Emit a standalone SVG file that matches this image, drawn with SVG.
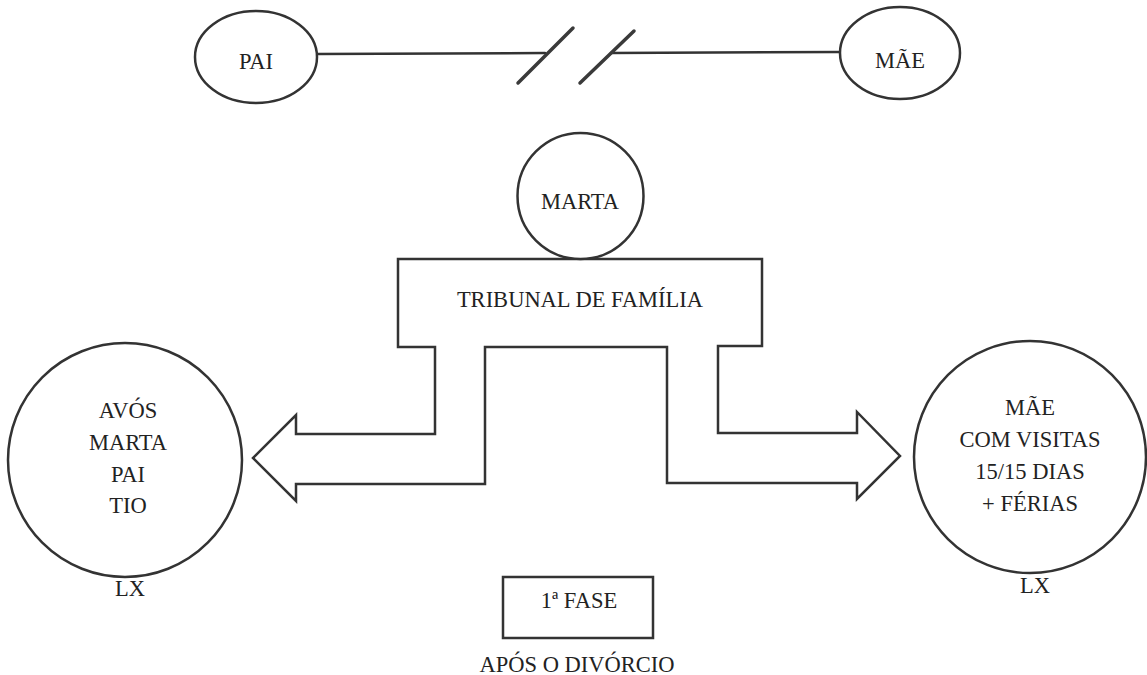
<svg xmlns="http://www.w3.org/2000/svg" width="1147" height="675" viewBox="0 0 1147 675">
  <style>
    .shape { fill: #fff; stroke: #333; stroke-width: 2.5; }
    .line { fill: none; stroke: #333; stroke-width: 2.5; stroke-linecap: round; }
    .slash { fill: none; stroke: #3a3a3a; stroke-width: 3.5; stroke-linecap: round; }
    text { font-family: 'Liberation Serif', 'DejaVu Serif', serif; font-size: 22.5px; fill: #222; text-anchor: middle; }
  </style>
  <rect width="1147" height="675" fill="#fff"/>

  <!-- broken relationship line between the parents -->
  <g id="connectors">
    <line class="line" x1="317" y1="54" x2="545" y2="53"/>
    <line class="line" x1="611" y1="53" x2="840" y2="52"/>
    <line class="slash" x1="518" y1="83" x2="573" y2="28"/>
    <line class="slash" x1="580" y1="83" x2="634" y2="31"/>
  </g>

  <g id="pai">
    <ellipse class="shape" cx="256" cy="57" rx="61" ry="46"/>
    <text x="256" y="69">PAI</text>
  </g>

  <g id="mae">
    <ellipse class="shape" cx="900" cy="53" rx="60" ry="46"/>
    <text x="900" y="68">MÃE</text>
  </g>

  <!-- court block with the two outgoing arrows -->
  <g id="tribunal">
    <path class="shape" d="M398,259 L762,259 L762,346 L718,346 L718,433 L857,433 L857,412 L900,456 L857,499 L857,483 L667,483 L667,347 L485,347 L485,484 L296,484 L296,501 L253,458 L296,415 L296,434 L435,434 L435,347 L398,347 Z"/>
    <text x="580" y="307">TRIBUNAL DE FAMÍLIA</text>
  </g>

  <g id="marta">
    <circle class="shape" cx="580.5" cy="196" r="63"/>
    <text x="580" y="209">MARTA</text>
  </g>

  <g id="casa-pai">
    <circle class="shape" cx="125" cy="460" r="117"/>
    <text x="128" y="418">AVÓS</text>
    <text x="128" y="450">MARTA</text>
    <text x="128" y="482">PAI</text>
    <text x="128" y="513">TIO</text>
    <text x="130" y="596">LX</text>
  </g>

  <g id="casa-mae">
    <circle class="shape" cx="1030" cy="457" r="116"/>
    <text x="1030" y="415">MÃE</text>
    <text x="1030" y="447">COM VISITAS</text>
    <text x="1030" y="479">15/15 DIAS</text>
    <text x="1030" y="511">+ FÉRIAS</text>
    <text x="1035" y="593">LX</text>
  </g>

  <g id="fase">
    <rect class="shape" x="503" y="577" width="150" height="61"/>
    <text x="579" y="608">1ª FASE</text>
    <text x="577" y="672">APÓS O DIVÓRCIO</text>
  </g>
</svg>
